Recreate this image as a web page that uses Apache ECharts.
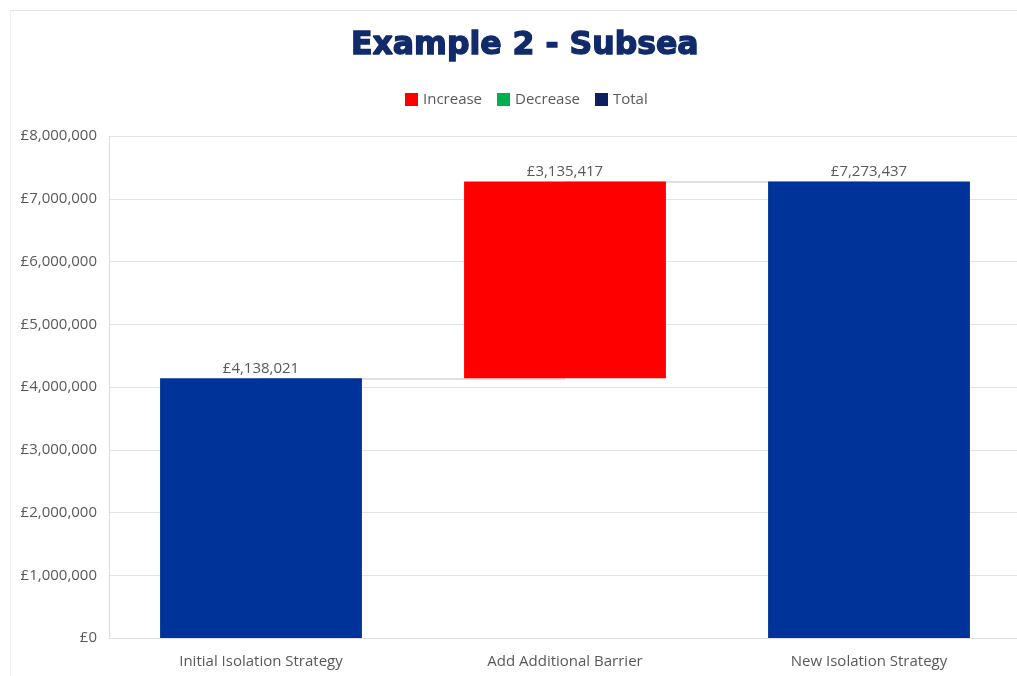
<!DOCTYPE html>
<html>
<head>
<meta charset="utf-8">
<script src="https://cdn.jsdelivr.net/npm/echarts@6/dist/echarts.min.js"></script>
<style>
  html, body { margin: 0; padding: 0; background: #fff; overflow: hidden; }
  #wrap { position: relative; width: 1017px; height: 676px; overflow: hidden; }
  /* the plot runs a little past the right edge of the picture */
  #chart { width: 1030px; height: 676px; }
  .frame {
    position: absolute; left: 10px; top: 10px; right: 0; bottom: 0;
    border-top: 1px solid #e4e4e4; border-left: 1px solid #eeeeee;
    pointer-events: none;
  }
</style>
</head>
<body>
<div id="wrap">
  <div id="chart"></div>
  <div class="frame"></div>
</div>
<script>
const categories = ['Initial Isolation Strategy', 'Add Additional Barrier', 'New Isolation Strategy']
// invisible base for the floating bar
const baseValues = ['-', 4138021, '-']
const increaseValues = ['-', 3135417, '-']
const decreaseValues = ['-', '-', '-']
const totalValues = [4138021, '-', 7273437]
const yTicks = { min: 0, max: 8000000, interval: 1000000 }

const fmt = (v) => '£' + Number(v).toLocaleString('en-GB')
const labelFont = 'Open Sans, Noto Sans, sans-serif'

const chart = echarts.init(document.getElementById('chart'))

const option = {
  backgroundColor: '#fff',
  animation: false,
  title: {
    text: 'Example 2 - Subsea',
    left: 346,
    top: 25,
    textStyle: {
      fontFamily: 'DejaVu Sans, sans-serif',
      fontWeight: 'bold',
      fontSize: 31.5,
      color: '#112a6b',
      textBorderColor: '#112a6b',
      textBorderWidth: 1.4
    }
  },
  legend: {
    left: 400,
    top: 87,
    itemWidth: 13,
    itemHeight: 13,
    itemGap: 15,
    textStyle: { fontFamily: labelFont, fontSize: 15, color: '#595959' },
    data: [
      { name: 'Increase', icon: 'rect', itemStyle: { color: '#ff0000' } },
      { name: 'Decrease', icon: 'rect', itemStyle: { color: '#00b050' } },
      { name: 'Total', icon: 'rect', itemStyle: { color: '#0d1f5e' } }
    ]
  },
  grid: {
    left: 109,
    top: 136,
    bottom: 38,
    width: 912,
    containLabel: false
  },
  xAxis: {
    type: 'category',
    data: categories,
    axisTick: { show: false },
    axisLine: { show: true, lineStyle: { color: '#e0e0e0' } },
    axisLabel: { fontFamily: labelFont, fontSize: 15, color: '#595959', margin: 16 }
  },
  yAxis: {
    type: 'value',
    min: yTicks.min,
    max: yTicks.max,
    interval: yTicks.interval,
    axisLine: { show: true, lineStyle: { color: '#dcdcdc' } },
    axisTick: { show: false },
    splitLine: { lineStyle: { color: '#e3e3e3' } },
    axisLabel: { fontFamily: labelFont, fontSize: 15, color: '#595959', margin: 12, formatter: fmt }
  },
  series: [
    {
      name: 'base',
      type: 'bar',
      stack: 'wf',
      data: baseValues,
      barWidth: '66.4%',
      itemStyle: { color: 'transparent' },
      silent: true,
      z: 1,
      markLine: {
        z: 1,
        silent: true,
        symbol: 'none',
        label: { show: false },
        lineStyle: { color: '#d6d6d6', width: 1.5, type: 'solid' },
        data: [
          [{ coord: [0, totalValues[0]] }, { coord: [1, totalValues[0]] }],
          [{ coord: [1, totalValues[2]] }, { coord: [2, totalValues[2]] }]
        ]
      }
    },
    {
      name: 'Increase',
      type: 'bar',
      stack: 'wf',
      data: increaseValues,
      itemStyle: { color: '#ff0000' },
      z: 3,
      label: {
        show: true, position: 'top', distance: 2,
        fontFamily: labelFont, fontSize: 15, color: '#595959', formatter: (p) => fmt(p.value)
      }
    },
    {
      name: 'Decrease',
      type: 'bar',
      stack: 'wf',
      data: decreaseValues,
      itemStyle: { color: '#00b050' },
      z: 3
    },
    {
      name: 'Total',
      type: 'bar',
      stack: 'wf',
      data: totalValues,
      itemStyle: { color: '#003399' },
      z: 3,
      label: {
        show: true, position: 'top', distance: 2,
        fontFamily: labelFont, fontSize: 15, color: '#595959', formatter: (p) => fmt(p.value)
      }
    }
  ]
}

chart.setOption(option)
</script>
</body>
</html>
